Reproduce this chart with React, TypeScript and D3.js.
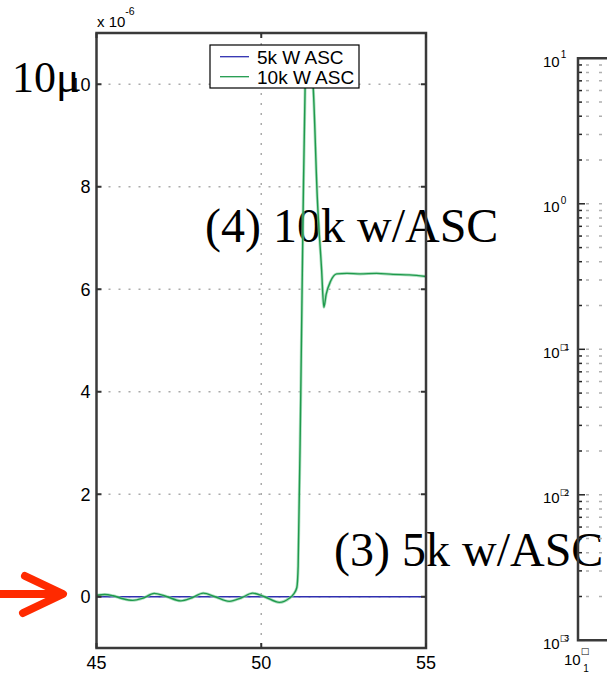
import React from "react";
import * as d3 from "d3";

const W = 607;
const H = 674;

// left panel data
const xDomain = [45, 55];
const yDomain = [-1, 11];
const xTicks = [45, 50, 55];
const yTicks = [0, 2, 4, 6, 8, 10];
const seriesNames = ["5k W ASC", "10k W ASC"];
const seriesColors = ["#2f2fb0", "#1f9a4c"];
const blueX = [45, 55];
const blueY = [0, 0];
const greenX = [
  45.0, 45.25, 45.5, 45.8, 46.1, 46.4, 46.75, 47.1, 47.56, 47.9, 48.24, 48.6, 49.03, 49.4, 49.74, 50.1,
  50.55, 50.85, 50.98, 51.08, 51.12, 51.2, 51.27, 51.33, 51.38, 51.45, 51.52, 51.58, 51.7, 51.83, 51.9,
  51.97, 52.1, 52.29, 52.6, 53.0, 53.5, 54.0, 54.5, 55.0,
];
const greenY = [
  0.03, 0.045, 0.02, -0.04, -0.07, -0.03, 0.065, 0.01, -0.08, -0.02, 0.07, 0.0, -0.09, -0.02, 0.07, 0.0,
  -0.11, -0.03, 0.05, 0.18, 0.6, 4.0, 7.5, 9.9, 10.45, 10.6, 10.45, 9.9, 7.8, 6.4, 5.65,
  5.9, 6.15, 6.3, 6.31, 6.3, 6.31, 6.29, 6.28, 6.25,
];

// right panel (log axis)
const logDomain = [1e-3, 10];
const logDecades = [1, 0, -1, -2, -3];
const logExpDigits = ["1", "0", "1", "2", "3"];

// overlay annotations
const noteUnit = "10μ";
const note4 = "(4) 10k w/ASC";
const note3 = "(3) 5k w/ASC";

const L = { x0: 96.5, x1: 426, y0: 33, y1: 648 };
const R = { x0: 578, y0: 58.3, y1: 640.3 };

const sans = "'Liberation Sans', Arial, Helvetica, sans-serif";
const serif = "'Liberation Serif', 'Times New Roman', serif";
const boxFont = "'DejaVu Sans', sans-serif";

export default function App() {
  const x = d3.scaleLinear().domain(xDomain).range([L.x0, L.x1]);
  const y = d3.scaleLinear().domain(yDomain).range([L.y1, L.y0]);
  const ly = d3.scaleLog().domain(logDomain).range([R.y1, R.y0]);

  const line = d3
    .line<[number, number]>()
    .x((d) => x(d[0]))
    .y((d) => y(d[1]))
    .curve(d3.curveMonotoneX);

  const blueData: [number, number][] = blueX.map((v, i) => [v, blueY[i]]);
  const greenData: [number, number][] = greenX.map((v, i) => [v, greenY[i]]);

  const minorVals: number[] = [];
  for (let d = -3; d <= 0; d++) {
    for (let k = 1; k <= 9; k++) minorVals.push(k * Math.pow(10, d));
  }
  minorVals.push(10);

  return (
    <div style={{ position: "fixed", left: 0, top: 0 }}>
      <svg width={W} height={H} style={{ display: "block" }}>
        <rect x={0} y={0} width={W} height={H} fill="#fff" />

        {/* overlay annotation texts (underneath chart marks) */}
        <text x={12} y={92} fontFamily={serif} fontSize={44} fill="#000">
          {noteUnit}
        </text>
        <text x={205} y={242} fontFamily={serif} fontSize={48} fill="#000">
          {note4}
        </text>
        <text x={334} y={566} fontFamily={serif} fontSize={48} fill="#000">
          {note3}
        </text>

        {/* left panel grid */}
        {yTicks.map((t) => (
          <line
            key={"gy" + t}
            x1={L.x0}
            x2={L.x1}
            y1={y(t)}
            y2={y(t)}
            stroke="#aaa"
            strokeWidth={1.5}
            strokeDasharray="2,8"
            strokeDashoffset={-12}
          />
        ))}
        {xTicks
          .filter((t) => t !== xDomain[0] && t !== xDomain[1])
          .map((t) => (
            <line
              key={"gx" + t}
              x1={x(t)}
              x2={x(t)}
              y1={L.y0}
              y2={L.y1}
              stroke="#aaa"
              strokeWidth={1.5}
              strokeDasharray="2,8"
            />
          ))}

        {/* series */}
        <path d={line(blueData) || ""} fill="none" stroke={seriesColors[0]} strokeWidth={1.7} />
        <path d={line(greenData) || ""} fill="none" stroke="#8fd3a8" strokeWidth={3} opacity={0.7} />
        <path d={line(greenData) || ""} fill="none" stroke={seriesColors[1]} strokeWidth={1.4} />

        {/* frame */}
        <rect
          x={L.x0}
          y={L.y0}
          width={L.x1 - L.x0}
          height={L.y1 - L.y0}
          fill="none"
          stroke="#3a3a3a"
          strokeWidth={2.5}
        />

        {/* ticks */}
        {yTicks.map((t) => (
          <g key={"ty" + t}>
            <line x1={L.x0} x2={L.x0 + 5} y1={y(t)} y2={y(t)} stroke="#333" strokeWidth={2} />
            <line x1={L.x1 - 5} x2={L.x1} y1={y(t)} y2={y(t)} stroke="#333" strokeWidth={2} />
            <text
              x={L.x0 - 6}
              y={y(t)}
              dy="0.36em"
              textAnchor="end"
              fontFamily={sans}
              fontSize={18}
              fill="#000"
            >
              {t}
            </text>
          </g>
        ))}
        {xTicks.map((t) => (
          <g key={"tx" + t}>
            <line x1={x(t)} x2={x(t)} y1={L.y0} y2={L.y0 + 5} stroke="#333" strokeWidth={2} />
            <line x1={x(t)} x2={x(t)} y1={L.y1 - 5} y2={L.y1} stroke="#333" strokeWidth={2} />
            <text x={x(t)} y={669} textAnchor="middle" fontFamily={sans} fontSize={18} fill="#000">
              {t}
            </text>
          </g>
        ))}

        {/* exponent label */}
        <text x={97} y={27} fontFamily={sans} fontSize={15} fill="#000">
          x 10
          <tspan dy={-12} fontSize={10.5}>
            -6
          </tspan>
        </text>

        {/* legend */}
        <rect x={210} y={45} width={149} height={43} fill="#fff" stroke="#000" strokeWidth={1.2} />
        {seriesNames.map((n, i) => (
          <g key={n}>
            <line
              x1={220}
              x2={249}
              y1={56.7 + i * 20}
              y2={56.7 + i * 20}
              stroke={seriesColors[i]}
              strokeWidth={1.3}
            />
            <text x={257} y={63.5 + i * 20} fontFamily={sans} fontSize={19} fill="#000">
              {n}
            </text>
          </g>
        ))}

        {/* right panel */}
        {minorVals.map((v, i) => (
          <line
            key={"rg" + i}
            x1={R.x0}
            x2={W}
            y1={ly(v)}
            y2={ly(v)}
            stroke="#b0b0b0"
            strokeWidth={1.5}
            strokeDasharray="3,10"
            strokeDashoffset={-8}
          />
        ))}
        {minorVals.map((v, i) => {
          const major = Math.abs(Math.log10(v) - Math.round(Math.log10(v))) < 1e-9;
          return (
            <line
              key={"rt" + i}
              x1={R.x0}
              x2={R.x0 + (major ? 7 : 4)}
              y1={ly(v)}
              y2={ly(v)}
              stroke="#222"
              strokeWidth={1.5}
            />
          );
        })}
        <path
          d={`M${W + 5},${R.y0}H${R.x0}V${R.y1}H${W + 5}`}
          fill="none"
          stroke="#3a3a3a"
          strokeWidth={2.5}
        />
        {logDecades.map((d, i) => {
          const yy = ly(Math.pow(10, d));
          const neg = d < 0;
          return (
            <text key={"rl" + d} x={543} y={yy + 8.4} fontFamily={sans} fontSize={15} fill="#000">
              10
              {neg ? (
                <>
                  <tspan dy={-8} fontFamily={boxFont} fontSize={9}>
                    □
                  </tspan>
                  <tspan dx={-4} dy={0.5} fontSize={9}>
                    {logExpDigits[i]}
                  </tspan>
                </>
              ) : (
                <tspan dx={1} dy={-8.4} fontSize={10}>
                  {logExpDigits[i]}
                </tspan>
              )}
            </text>
          );
        })}
        {/* right panel bottom x label */}
        <text x={564} y={665} fontFamily={sans} fontSize={15} fill="#000">
          10
          <tspan dy={-11} fontFamily={boxFont} fontSize={9}>
            □
          </tspan>
          <tspan dx={-6} dy={18} fontSize={10}>
            1
          </tspan>
        </text>

        {/* red arrow */}
        <path
          d="M-5,594H58M25,576L63,594L23,613"
          fill="none"
          stroke="#ff2a00"
          strokeWidth={8}
          strokeLinecap="round"
          strokeLinejoin="round"
        />
      </svg>
    </div>
  );
}
